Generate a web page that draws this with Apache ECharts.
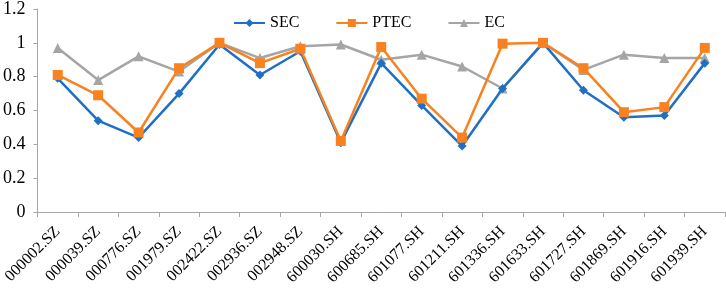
<!DOCTYPE html>
<html>
<head>
<meta charset="utf-8">
<script src="https://cdn.jsdelivr.net/npm/echarts@6/dist/echarts.min.js"></script>
<style>
  html, body { margin: 0; padding: 0; background: #fff; }
  #chart { width: 726px; height: 291px; }
</style>
</head>
<body>
<div id="chart"></div>
<script>
const categories = ["000002.SZ", "000039.SZ", "000776.SZ", "001979.SZ", "002422.SZ", "002936.SZ",
  "002948.SZ", "600030.SH", "600685.SH", "601077.SH", "601211.SH", "601336.SH",
  "601633.SH", "601727.SH", "601869.SH", "601916.SH", "601939.SH"];
const sec = [0.79, 0.54, 0.44, 0.70, 0.99, 0.81, 0.95, 0.41, 0.88, 0.63, 0.39, 0.73, 1.0, 0.72, 0.56, 0.57, 0.88];
const ptec = [0.81, 0.69, 0.47, 0.85, 1.0, 0.88, 0.965, 0.42, 0.975, 0.67, 0.44, 0.995, 1.0, 0.85, 0.59, 0.62, 0.97];
const ec = [0.97, 0.78, 0.92, 0.83, 1.0, 0.91, 0.98, 0.99, 0.90, 0.93, 0.86, 0.73, 1.0, 0.84, 0.93, 0.91, 0.91];

const font = "'Liberation Serif', 'Times New Roman', serif";
const axisGray = "#a6a6a6";

let chart = echarts.init(document.getElementById("chart"));
let option = {
  animation: false,
  color: ["#1f6fc6", "#f7821f", "#a5a5a5"],
  grid: {
    left: 35,
    right: 1,
    top: 6,
    bottom: 79,
    containLabel: false
  },
  legend: {
    data: ["SEC", "PTEC", "EC"],
    left: 228,
    top: 10,
    itemWidth: 31,
    itemHeight: 10,
    itemGap: 36,
    textStyle: {
      fontFamily: font,
      fontSize: 16,
      color: "#000"
    }
  },
  xAxis: {
    type: "category",
    data: categories,
    boundaryGap: true,
    axisLine: { lineStyle: { color: axisGray, width: 1 } },
    axisTick: { show: true, length: 5, alignWithLabel: false, lineStyle: { color: axisGray } },
    axisLabel: {
      rotate: 45,
      interval: 0,
      margin: 17,
      fontFamily: font,
      fontSize: 16,
      color: "#000"
    }
  },
  yAxis: {
    type: "value",
    min: 0,
    max: 1.2,
    interval: 0.2,
    splitLine: { show: false },
    axisLine: { show: true, lineStyle: { color: axisGray, width: 1 } },
    axisTick: { show: true, length: 4, lineStyle: { color: axisGray } },
    axisLabel: {
      margin: 12,
      fontFamily: font,
      fontSize: 18,
      color: "#000"
    }
  },
  series: [
    {
      name: "SEC",
      type: "line",
      data: sec,
      symbol: "diamond",
      symbolSize: 9,
      lineStyle: { width: 2.5 },
      z: 3
    },
    {
      name: "PTEC",
      type: "line",
      data: ptec,
      symbol: "rect",
      symbolSize: 10,
      lineStyle: { width: 2.5 },
      z: 4
    },
    {
      name: "EC",
      type: "line",
      data: ec,
      symbol: "triangle",
      symbolSize: 10,
      lineStyle: { width: 2.5 },
      z: 2
    }
  ]
};
chart.setOption(option);
</script>
</body>
</html>
